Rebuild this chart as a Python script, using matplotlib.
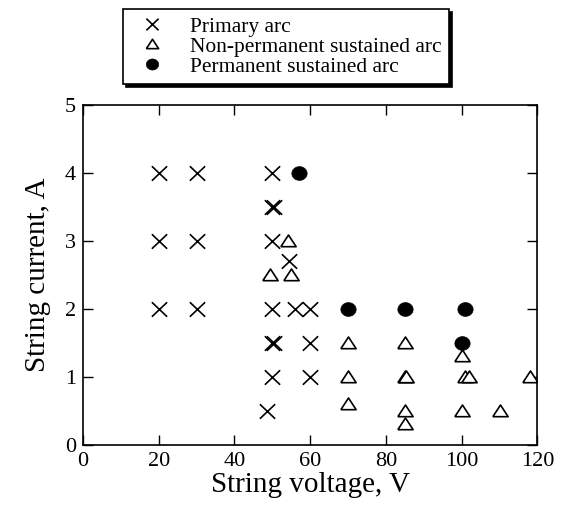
import numpy as np
import matplotlib.pyplot as plt
from matplotlib.path import Path

plt.rcParams['font.family'] = ['Liberation Serif', 'DejaVu Serif']

# Primary arc
primary_v = [20, 30, 50, 20, 30, 50, 20, 30, 50, 50, 50.3, 54.5, 56, 60,
             50, 50.3, 60, 50, 60, 48.5]
primary_i = [4, 4, 4, 3, 3, 3, 2, 2, 2, 3.5, 3.5, 2.7, 2, 2,
             1.5, 1.5, 1.5, 1, 1, 0.5]

# Non-permanent sustained arc
nonperm_v = [54, 49.5, 55, 70, 85, 100, 70, 85, 85.3, 100.8, 102, 118,
             70, 85, 100, 110, 85]
nonperm_i = [3, 2.5, 2.5, 1.5, 1.5, 1.3, 1, 1, 1, 1, 1, 1,
             0.6, 0.5, 0.5, 0.5, 0.3]

# Permanent sustained arc
perm_v = [57, 70, 85, 101, 100]
perm_i = [4, 2, 2, 2, 1.5]

# marker shapes (slightly wide, like the source figure)
tri = [(-1, -0.68), (1, -0.68), (0, 0.85), (-1, -0.68)]
t = np.linspace(0, 2 * np.pi, 41)
ell = np.column_stack([np.cos(t), 0.9 * np.sin(t)])
cross = Path([(-1, -0.95), (1, 0.95), (-1, 0.95), (1, -0.95)],
             [Path.MOVETO, Path.LINETO, Path.MOVETO, Path.LINETO])

fig = plt.figure(figsize=(5.61, 5.09), dpi=100)
ax = fig.add_axes([0.148, 0.126, 0.810, 0.668])

ax.plot(primary_v, primary_i, ls='none', marker=cross, ms=11, mew=1.2,
        mfc='none', mec='k', label='Primary arc')
ax.plot(nonperm_v, nonperm_i, ls='none', marker=tri, ms=11, mew=1.2,
        mfc='white', mec='k', label='Non-permanent sustained arc')
ax.plot(perm_v, perm_i, ls='none', marker=ell, ms=11, mew=0.5,
        mfc='k', mec='k', label='Permanent sustained arc')

ax.set_xlim(0, 120)
ax.set_ylim(0, 5)
ax.set_xticks(np.arange(0, 121, 20))
ax.set_yticks(np.arange(0, 6, 1))
ax.tick_params(direction='in', top=True, right=True, length=7, width=1,
               labelsize=16, pad=5)
for s in ax.spines.values():
    s.set_linewidth(1.2)

ax.set_xlabel('String voltage, V', fontsize=21, labelpad=1)
ax.set_ylabel('String current, A', fontsize=21, labelpad=10)

leg = fig.legend(loc='upper left', bbox_to_anchor=(123 / 561, 1 - 9 / 509),
                 borderaxespad=0, fontsize=15.5, markerscale=0.8,
                 labelspacing=0.0, borderpad=0.35, handletextpad=0.75,
                 fancybox=False, edgecolor='k', framealpha=1,
                 shadow={'color': 'k', 'alpha': 1})
leg.get_frame().set_linewidth(1.2)

fig.savefig('out.png', dpi=100)
